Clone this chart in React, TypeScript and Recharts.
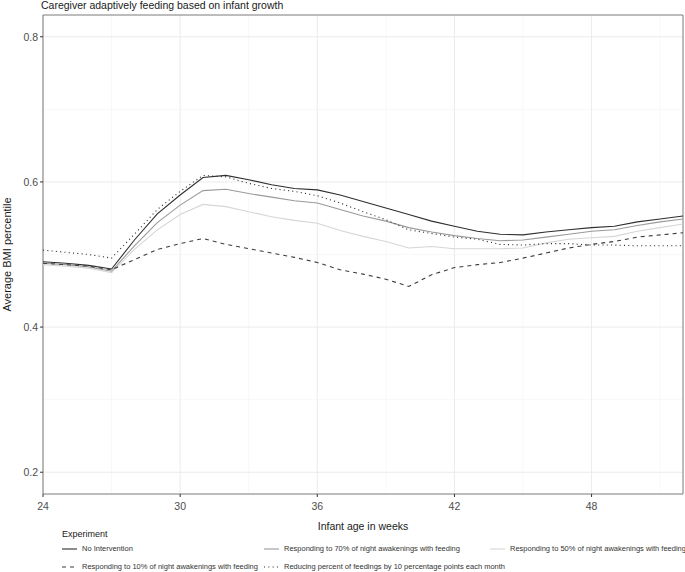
import React from "react";
import { CartesianGrid, Line, LineChart, ReferenceArea, XAxis, YAxis } from "recharts";

const weeks = [24, 25, 26, 27, 28, 29, 30, 31, 32, 33, 34, 35, 36, 37, 38, 39, 40, 41, 42, 43, 44, 45, 46, 47, 48, 49, 50, 51, 52];

const noIntervention = [0.49, 0.488, 0.485, 0.48, 0.52, 0.556, 0.582, 0.606, 0.609, 0.603, 0.596, 0.591, 0.589, 0.582, 0.573, 0.564, 0.555, 0.546, 0.539, 0.532, 0.528, 0.527, 0.531, 0.534, 0.537, 0.539, 0.545, 0.549, 0.553];
const respond70 = [0.488, 0.486, 0.483, 0.477, 0.512, 0.544, 0.568, 0.588, 0.59, 0.584, 0.579, 0.574, 0.571, 0.562, 0.553, 0.546, 0.537, 0.531, 0.526, 0.522, 0.519, 0.52, 0.524, 0.528, 0.532, 0.534, 0.54, 0.545, 0.549];
const respond50 = [0.486, 0.484, 0.481, 0.475, 0.507, 0.534, 0.555, 0.569, 0.566, 0.559, 0.552, 0.547, 0.543, 0.533, 0.525, 0.518, 0.509, 0.511, 0.508, 0.508, 0.508, 0.509, 0.516, 0.521, 0.523, 0.525, 0.532, 0.537, 0.542];
const respond10 = [0.488, 0.486, 0.484, 0.479, 0.493, 0.507, 0.515, 0.522, 0.514, 0.508, 0.502, 0.496, 0.489, 0.479, 0.473, 0.466, 0.456, 0.472, 0.482, 0.486, 0.489, 0.495, 0.502, 0.509, 0.514, 0.518, 0.524, 0.527, 0.53];
const reduceMonthly = [0.506, 0.503, 0.5, 0.495, 0.528, 0.562, 0.587, 0.609, 0.607, 0.598, 0.591, 0.587, 0.581, 0.571, 0.559, 0.548, 0.534, 0.529, 0.524, 0.521, 0.514, 0.513, 0.515, 0.515, 0.513, 0.513, 0.512, 0.512, 0.512];

const xMajor = [24, 30, 36, 42, 48];
const xMinor = [27, 33, 39, 45, 51];
const yMajor = [0.2, 0.4, 0.6, 0.8];
const yMinor = [0.3, 0.5, 0.7];

const series = [
  { key: "none", name: "No Intervention", values: noIntervention, color: "#2e2e2e", dash: undefined },
  { key: "r70", name: "Responding to 70% of night awakenings with feeding", values: respond70, color: "#9a9a9a", dash: undefined },
  { key: "r50", name: "Responding to 50% of night awakenings with feeding", values: respond50, color: "#d6d6d6", dash: undefined },
  { key: "r10", name: "Responding to 10% of night awakenings with feeding", values: respond10, color: "#3c3c3c", dash: "4 4" },
  { key: "reduce", name: "Reducing percent of feedings by 10 percentage points each month", values: reduceMonthly, color: "#333333", dash: "1.1 3.2" },
];

const data = weeks.map((week, i) => {
  const row: Record<string, number> = { week };
  series.forEach((s) => (row[s.key] = s.values[i]));
  return row;
});

const font = "'Liberation Sans', Arial, Helvetica, sans-serif";
const tickStyle = { fontSize: 10.5, fill: "#4d4d4d", fontFamily: font };

// legend slot positions (two rows, three columns)
const legendSlots = [
  { left: 62, top: 543 },
  { left: 264, top: 543 },
  { left: 490, top: 543 },
  { left: 62, top: 561 },
  { left: 264, top: 561 },
];

function LegendKey({ color, dash }: { color: string; dash?: string }) {
  return (
    <svg width={15} height={6} style={{ display: "block" }}>
      <line x1={0} y1={3} x2={15} y2={3} stroke={color} strokeWidth={1.1} strokeDasharray={dash} />
    </svg>
  );
}

export default function App() {
  return (
    <div style={{ position: "absolute", left: 0, top: 0, width: 685, height: 572, fontFamily: font, background: "#fff" }}>
      <div style={{ position: "absolute", left: 41, top: 0, fontSize: 10.5, lineHeight: "11px", color: "#1a1a1a", whiteSpace: "nowrap" }}>
        Caregiver adaptively feeding based on infant growth
      </div>
      <LineChart width={685} height={572} data={data} margin={{ top: 15, right: 2, bottom: 40, left: 0 }}>
        <CartesianGrid stroke="#f3f3f3" strokeWidth={0.6} horizontalValues={yMinor} verticalValues={xMinor} />
        <CartesianGrid stroke="#ebebeb" strokeWidth={1} horizontalValues={yMajor} verticalValues={xMajor} />
        <XAxis
          type="number"
          dataKey="week"
          domain={[24, 52]}
          ticks={xMajor}
          allowDataOverflow
          height={38}
          axisLine={false}
          tickLine={{ stroke: "#333" }}
          tickSize={3}
          tickMargin={6}
          tick={tickStyle}
          label={{ value: "Infant age in weeks", position: "insideBottom", offset: 2, style: { fontSize: 10.5, fill: "#1a1a1a", fontFamily: font } }}
        />
        <YAxis
          type="number"
          domain={[0.17, 0.83]}
          ticks={yMajor}
          allowDataOverflow
          width={43}
          axisLine={false}
          tickLine={{ stroke: "#333" }}
          tickSize={3}
          tickMargin={2}
          tick={tickStyle}
          tickFormatter={(v: number) => v.toFixed(1)}
          label={{
            content: ({ viewBox }: any) => (
              <text
                x={7}
                y={viewBox.y + viewBox.height / 2}
                transform={`rotate(-90, 7, ${viewBox.y + viewBox.height / 2})`}
                textAnchor="middle"
                dominantBaseline="central"
                fontSize={11}
                fill="#1a1a1a"
                fontFamily={font}
              >
                Average BMI percentile
              </text>
            ),
          }}
        />
        {series.map((s) => (
          <Line
            key={s.key}
            type="linear"
            dataKey={s.key}
            name={s.name}
            stroke={s.color}
            strokeWidth={1.1}
            strokeDasharray={s.dash}
            dot={false}
            activeDot={false}
            isAnimationActive={false}
          />
        ))}
        <ReferenceArea x1={24} x2={52} y1={0.17} y2={0.83} fill="none" stroke="#7a7a7a" strokeWidth={1} ifOverflow="visible" />
      </LineChart>
      <div style={{ position: "absolute", left: 62, top: 529, fontSize: 9, color: "#1a1a1a" }}>Experiment</div>
      {series.map((s, i) => (
        <div
          key={s.key}
          style={{ position: "absolute", left: legendSlots[i].left, top: legendSlots[i].top, display: "flex", alignItems: "center", gap: 5, fontSize: 7.5, lineHeight: "12px", color: "#333", whiteSpace: "nowrap" }}
        >
          <LegendKey color={s.color} dash={s.dash} />
          <span>{s.name}</span>
        </div>
      ))}
    </div>
  );
}
